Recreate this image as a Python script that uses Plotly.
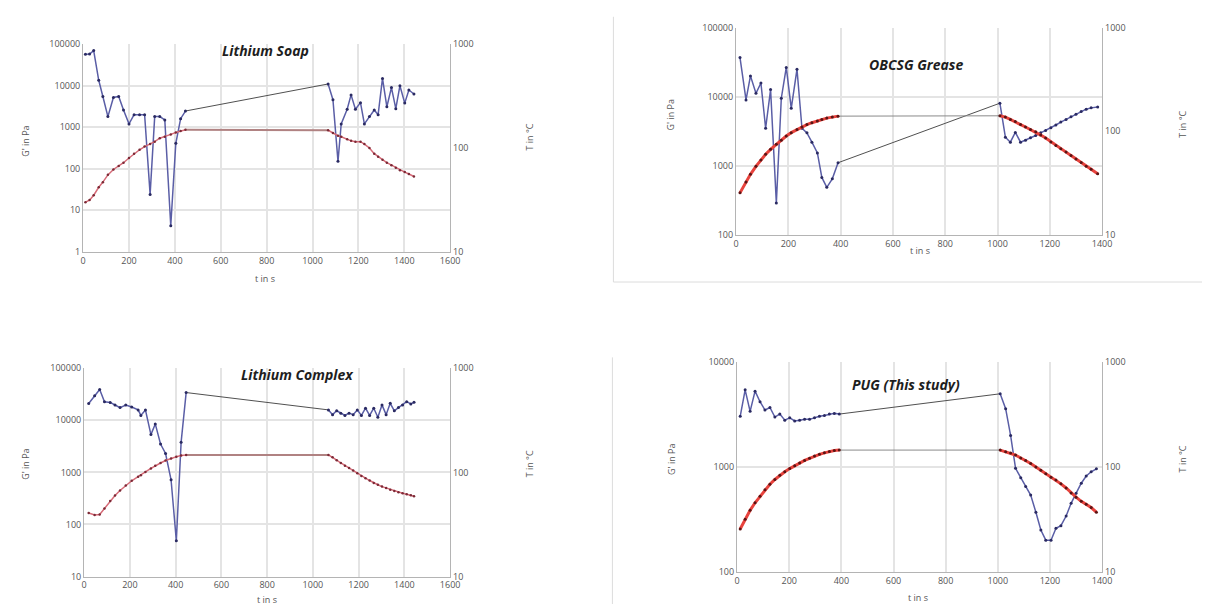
import plotly.graph_objects as go

W, H = 1216, 610

# ---------------- data ----------------
# Lithium Soap
ls_heat_t = [10, 28, 46, 68, 86, 108, 132, 155, 176, 200, 222, 246, 268, 292, 312, 334, 356, 382, 404, 425, 446]
ls_heat_G = [57000, 58000, 70000, 13500, 5500, 1800, 5200, 5500, 2600, 1200, 2000, 2000, 2000, 24, 1800, 1800, 1500, 4.2, 410, 1600, 2450]
ls_heat_T = [30, 31.4, 35, 41.8, 46.8, 55, 62, 67, 72, 80, 88, 96, 103, 109, 115, 124, 128, 135, 141, 146, 150]
ls_cool_t = [1068, 1089, 1111, 1125, 1151, 1168, 1187, 1209, 1226, 1248, 1269, 1286, 1305, 1324, 1344, 1363, 1381, 1402, 1420, 1442]
ls_cool_G = [11000, 4600, 150, 1200, 2700, 6000, 2700, 3900, 1200, 1800, 2600, 2000, 15000, 3100, 9000, 2800, 10000, 3800, 7900, 6300]
ls_cool_T = [148, 139, 131, 128, 121, 117, 115, 115, 109, 100, 88, 82, 77, 72, 68, 64.5, 61, 58.5, 56, 53]

# OBCSG Grease
ob_heat_t = [15, 38, 55, 76, 95, 113, 132, 154, 173, 192, 211, 233, 252, 271, 290, 311, 328, 347, 368, 390]
ob_heat_G = [36800, 9000, 20000, 11200, 15800, 3500, 12700, 290, 9500, 26500, 6800, 25000, 3500, 3000, 2200, 1540, 680, 490, 650, 1110]
ob_heat_T = [25.5, 32.5, 38.5, 46, 53, 60, 67, 75, 82, 90, 97, 104, 110, 116, 121, 126, 130, 134, 137, 140]
ob_cool_t = [1009, 1030, 1049, 1068, 1088, 1107, 1126, 1146, 1165, 1184, 1204, 1223, 1242, 1262, 1281, 1300, 1320, 1339, 1358, 1383]
ob_cool_G = [8060, 2600, 2200, 3050, 2200, 2350, 2550, 2750, 3000, 3250, 3550, 3900, 4300, 4700, 5150, 5600, 6100, 6600, 6900, 7100]
ob_cool_T = [141, 137, 130, 124, 116, 110, 104, 99, 92, 86, 79, 73, 68, 63, 58.5, 54, 50, 46, 43, 39]

# Lithium Complex
lc_heat_t = [20, 46, 68, 89, 114, 135, 157, 182, 208, 236, 248, 268, 292, 311, 334, 356, 380, 403, 424, 446]
lc_heat_G = [21000, 29500, 39000, 22700, 22000, 19600, 17500, 19600, 18000, 15800, 12400, 15800, 5300, 8500, 3500, 2300, 720, 49, 3800, 34000]
lc_heat_T = [40.7, 39, 39.5, 45, 53, 60, 67, 75, 83, 91, 94, 101, 109, 116, 123, 130, 136, 141, 145, 147]
lc_cool_t = [1068, 1086, 1104, 1122, 1140, 1158, 1176, 1194, 1212, 1230, 1248, 1266, 1284, 1302, 1320, 1338, 1356, 1374, 1392, 1410, 1428, 1442]
lc_cool_G = [15800, 12800, 15200, 13700, 12400, 13700, 12800, 15800, 12400, 17000, 12400, 17000, 11400, 19700, 12800, 21100, 15200, 17500, 19700, 22700, 20500, 22100]
lc_cool_T = [147, 140, 131, 123, 116, 110, 104, 98, 92.5, 88, 83.5, 79, 76, 73, 70.8, 68, 66.4, 64.5, 63, 61.7, 60.3, 59]

# PUG (This study)
pg_heat_t = [12, 31, 50, 69, 88, 107, 126, 145, 164, 183, 202, 221, 240, 259, 278, 297, 316, 335, 354, 373, 392]
pg_heat_G = [3050, 5450, 3400, 5300, 4200, 3500, 3700, 3000, 3200, 2800, 2950, 2750, 2800, 2850, 2850, 2950, 3050, 3100, 3200, 3250, 3200]
pg_heat_T = [25.6, 31.6, 38.6, 45.5, 52.5, 60.5, 68.4, 76, 83.5, 90, 96.5, 103, 109, 115.5, 121, 127, 132, 136.5, 140.5, 143.5, 145]
pg_cool_t = [1009, 1030, 1049, 1068, 1088, 1107, 1126, 1146, 1165, 1184, 1204, 1223, 1242, 1262, 1281, 1300, 1320, 1339, 1358, 1378]
pg_cool_G = [5000, 3600, 2000, 970, 790, 650, 540, 370, 250, 200, 200, 260, 275, 340, 450, 560, 700, 820, 900, 960]
pg_cool_T = [145, 140, 136, 130, 122, 115, 108, 100, 93, 86, 80, 75, 69, 63, 56.5, 51.5, 47, 44, 41, 37]

titles = ["Lithium Soap", "OBCSG Grease", "Lithium Complex", "PUG (This study)"]
g_tick_vals = [1, 10, 100, 1000, 10000, 100000]
g_tick_text = ["1", "10", "100", "1000", "10000", "100000"]
t_tick_vals = [10, 100, 1000]
t_tick_text = ["10", "100", "1000"]
x_tick_vals = [0, 200, 400, 600, 800, 1000, 1200, 1400, 1600]
left_title = "G' in Pa"
right_title = "T in °C"
x_title = "t in s"

# ---------------- layout geometry (pixels) ----------------
panels = [
    dict(data=(ls_heat_t, ls_heat_G, ls_heat_T, ls_cool_t, ls_cool_G, ls_cool_T),
         box=(81, 452, 38, 250), xr=1600, gr=(0, 5), thick=False,
         title_xy=(265, 44), gl=(22, 137), tl=(532, 133), xl=(265, 277)),
    dict(data=(ob_heat_t, ob_heat_G, ob_heat_T, ob_cool_t, ob_cool_G, ob_cool_T),
         box=(741, 1111, 21, 233), xr=1400, gr=(2, 5), thick=True,
         title_xy=(923, 59), gl=(675, 110), tl=(1192, 120), xl=(927, 249)),
    dict(data=(lc_heat_t, lc_heat_G, lc_heat_T, lc_cool_t, lc_cool_G, lc_cool_T),
         box=(82, 452, 369, 582), xr=1600, gr=(1, 5), thick=False,
         title_xy=(298, 375), gl=(22, 467), tl=(532, 467), xl=(267, 605)),
    dict(data=(pg_heat_t, pg_heat_G, pg_heat_T, pg_cool_t, pg_cool_G, pg_cool_T),
         box=(742, 1111, 363, 577), xr=1400, gr=(2, 4), thick=True,
         title_xy=(913, 386), gl=(675, 462), tl=(1192, 462), xl=(925, 603)),
]

FONT = "Open Sans"
BLUE = "#5a5ea6"
BLUE_MK = "#2a2a62"
GRID = "#e4e4e4"
AXIS = "#b4b4b4"
TICKC = "#555555"

fig = go.Figure()
layout = dict(width=W, height=H, margin=dict(l=0, r=0, t=0, b=0), autosize=False,
              paper_bgcolor="white", plot_bgcolor="white", showlegend=False,
              font=dict(family=FONT, size=9, color=TICKC))
annotations = []

def fx(px):
    return px / W

def fy(py):
    return 1 - py / H

for i, p in enumerate(panels):
    n = i + 1
    xa = "x" if n == 1 else f"x{n}"
    yl_idx = 2 * i + 1
    yr_idx = 2 * i + 2
    yl = "y" if yl_idx == 1 else f"y{yl_idx}"
    yr = f"y{yr_idx}"
    x0, x1, y0, y1 = p["box"]
    heat_t, heat_G, heat_T, cool_t, cool_G, cool_T = p["data"]

    xkey = "xaxis" if n == 1 else f"xaxis{n}"
    ylkey = "yaxis" if yl_idx == 1 else f"yaxis{yl_idx}"
    yrkey = f"yaxis{yr_idx}"

    xt = [v for v in x_tick_vals if v <= p["xr"]]
    layout[xkey] = dict(domain=[fx(x0), fx(x1)], range=[0, p["xr"]], anchor=yl,
                        tickvals=xt, ticktext=[str(v) for v in xt],
                        showgrid=True, gridcolor=GRID, gridwidth=1.5,
                        showline=True, linecolor=AXIS, linewidth=1.2,
                        zeroline=False, ticks="", tickfont=dict(size=9, color=TICKC))
    gv = [v for v, s in zip(g_tick_vals, g_tick_text) if 10 ** p["gr"][0] <= v <= 10 ** p["gr"][1]]
    gt = [s for v, s in zip(g_tick_vals, g_tick_text) if 10 ** p["gr"][0] <= v <= 10 ** p["gr"][1]]
    layout[ylkey] = dict(domain=[fy(y1), fy(y0)], type="log", range=list(p["gr"]), anchor=xa,
                         tickvals=gv, ticktext=gt,
                         showgrid=True, gridcolor=GRID, gridwidth=1.5,
                         showline=True, linecolor=AXIS, linewidth=1.2,
                         zeroline=False, ticks="", tickfont=dict(size=9, color=TICKC))
    layout[yrkey] = dict(overlaying=yl, side="right", type="log", range=[1, 3], anchor=xa,
                         tickvals=t_tick_vals, ticktext=t_tick_text,
                         showgrid=False, showline=True, linecolor=AXIS, linewidth=1.2,
                         zeroline=False, ticks="", tickfont=dict(size=9, color=TICKC))

    if p["thick"]:
        red_line = dict(color="#e8433d", width=3)
        red_mk = dict(color="#5a1414", size=3)
        plateau = dict(color="#8a8a8a", width=1)
    else:
        red_line = dict(color="#d66b78", width=1.5)
        red_mk = dict(color="#7a2a36", size=2.5)
        plateau = dict(color="#b08282", width=2)

    # temperature (right axis)
    fig.add_trace(go.Scatter(x=[heat_t[-1], cool_t[0]], y=[heat_T[-1], cool_T[0]],
                             mode="lines", line=plateau, xaxis=xa, yaxis=yr, hoverinfo="skip"))
    for tt, TT in ((heat_t, heat_T), (cool_t, cool_T)):
        fig.add_trace(go.Scatter(x=tt, y=TT, mode="lines+markers", line=red_line,
                                 marker=red_mk, xaxis=xa, yaxis=yr))
    # modulus (left axis)
    fig.add_trace(go.Scatter(x=[heat_t[-1], cool_t[0]], y=[heat_G[-1], cool_G[0]],
                             mode="lines", line=dict(color="#505050", width=1),
                             xaxis=xa, yaxis=yl, hoverinfo="skip"))
    for tt, GG in ((heat_t, heat_G), (cool_t, cool_G)):
        fig.add_trace(go.Scatter(x=tt, y=GG, mode="lines+markers",
                                 line=dict(color=BLUE, width=1.5),
                                 marker=dict(color=BLUE_MK, size=3), xaxis=xa, yaxis=yl))

    # texts
    tx, ty = p["title_xy"]
    annotations.append(dict(x=fx(tx), y=fy(ty), xref="paper", yref="paper", showarrow=False,
                            xanchor="center", yanchor="middle",
                            text=f"<b><i>{titles[i]}</i></b>",
                            font=dict(family=FONT, size=14, color="#1e1e1e")))
    for (ax_, ay_), txt, ang in ((p["gl"], left_title, -90), (p["tl"], right_title, -90),
                                  (p["xl"], x_title, 0)):
        annotations.append(dict(x=fx(ax_), y=fy(ay_), xref="paper", yref="paper",
                                showarrow=False, text=txt, textangle=ang,
                                xanchor="center", yanchor="middle",
                                font=dict(family=FONT, size=9, color="#555555")))

shapes = [
    dict(type="line", xref="paper", yref="paper", x0=fx(617), x1=fx(617), y0=fy(10), y1=fy(281),
         line=dict(color="#dcdcdc", width=1)),
    dict(type="line", xref="paper", yref="paper", x0=fx(617), x1=fx(1212), y0=fy(281), y1=fy(281),
         line=dict(color="#dcdcdc", width=1)),
    dict(type="line", xref="paper", yref="paper", x0=fx(616), x1=fx(616), y0=fy(358), y1=fy(610),
         line=dict(color="#dcdcdc", width=1)),
]

layout["annotations"] = annotations
layout["shapes"] = shapes
fig.update_layout(**layout)
fig.write_html("out.html")
